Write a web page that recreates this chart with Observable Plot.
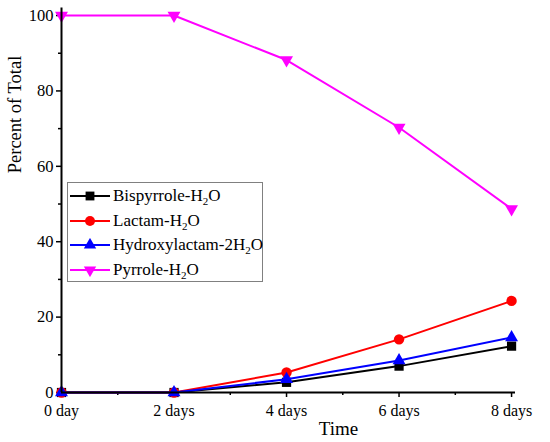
<!DOCTYPE html>
<html>
<head>
<meta charset="utf-8">
<script src="https://cdn.jsdelivr.net/npm/d3@7"></script>
<script src="https://cdn.jsdelivr.net/npm/@observablehq/plot@0.6"></script>
<style>
  html, body { margin: 0; padding: 0; background: #fff; }
  #wrap { position: relative; width: 550px; height: 442px; font-family: "Liberation Serif", "DejaVu Serif", serif; }
  #wrap svg text { font-family: "Liberation Serif", "DejaVu Serif", serif; }
  #legend { position: absolute; left: 67px; top: 182px; width: 196px; height: 100px; border: 1px solid #808080; background: #fff; box-sizing: border-box; padding-top: 1px; }
  .row { height: 24.5px; display: flex; align-items: center; font-size: 17px; color: #000; white-space: nowrap; }
  .row svg { margin-left: 2px; margin-right: 3px; flex: none; }
  sub { font-size: 11px; vertical-align: -4px; line-height: 0; }
</style>
</head>
<body>
<div id="wrap"><div id="chart"></div><div id="legend"></div></div>
<script>
const days = [0, 2, 4, 6, 8];
const tickLabels = ["0 day", "2 days", "4 days", "6 days", "8 days"];
const seriesNames = ["Bispyrrole-H2O", "Lactam-H2O", "Hydroxylactam-2H2O", "Pyrrole-H2O"];
const legendHtml = ["Bispyrrole-H<sub>2</sub>O", "Lactam-H<sub>2</sub>O", "Hydroxylactam-2H<sub>2</sub>O", "Pyrrole-H<sub>2</sub>O"];
const colors = ["#000000", "#ff0000", "#0000ff", "#ff00ff"];
const symbols = ["square", "circle", "triangle", "triangle"];
const rotations = [0, 0, 0, 180];
const bispyrrole = [0, 0, 2.7, 7.0, 12.3];
const lactam = [0, 0, 5.3, 14.1, 24.3];
const hydroxylactam = [0, 0, 3.5, 8.5, 14.6];
const pyrrole = [100, 100, 88.2, 70.3, 48.7];
const allValues = [bispyrrole, lactam, hydroxylactam, pyrrole];
const xLabel = "Time";
const yLabel = "Percent of Total";

const data = [];
allValues.forEach((vals, i) => vals.forEach((v, j) => data.push({series: seriesNames[i], idx: i, day: days[j], value: v})));

const marks = [];
seriesNames.forEach((name, i) => {
  const d = data.filter(r => r.idx === i);
  marks.push(Plot.line(d, {x: "day", y: "value", stroke: colors[i], strokeWidth: 2}));
  marks.push(Plot.dot(d, {x: "day", y: "value", fill: colors[i], stroke: "none", symbol: symbols[i], r: symbols[i] === "triangle" ? 4.8 : 5.2, rotate: rotations[i]}));
});

const chart = Plot.plot({
  width: 550,
  height: 442,
  marginLeft: 61,
  marginRight: 35,
  marginTop: 7.5,
  marginBottom: 50,
  style: {fontFamily: "'Liberation Serif', 'DejaVu Serif', serif", fontSize: "16px", color: "#000", background: "#fff"},
  x: {domain: [0, 8.07]},
  y: {domain: [0, 102]},
  marks: [
    Plot.axisX({ticks: days, tickFormat: d => tickLabels[days.indexOf(d)], tickSize: 5, tickPadding: 7, strokeWidth: 1.5, label: null, fontSize: 16}),
    Plot.axisX({ticks: [1, 3, 5, 7], tickSize: 3, strokeWidth: 1.5, text: null, label: null}),
    Plot.axisY({ticks: [0, 20, 40, 60, 80, 100], tickSize: 5, tickPadding: 3, strokeWidth: 1.5, label: null, fontSize: 16.5}),
    Plot.axisY({ticks: [10, 30, 50, 70, 90], tickSize: 3, strokeWidth: 1.5, text: null, label: null}),
    Plot.text([xLabel], {frameAnchor: "bottom", dx: 50, dy: 42, fontSize: 19, fill: "#000"}),
    Plot.text([yLabel], {frameAnchor: "left", rotate: -90, dx: -46, dy: -27, fontSize: 18.5, fill: "#000"}),
    ...marks,
    Plot.ruleY([0], {stroke: "#000", strokeWidth: 2}),
    Plot.ruleX([0], {stroke: "#000", strokeWidth: 2})
  ]
});
document.getElementById("chart").appendChild(chart);

const legend = document.getElementById("legend");
seriesNames.forEach((name, i) => {
  const row = document.createElement("div");
  row.className = "row";
  const svg = d3.create("svg").attr("width", 40).attr("height", 14);
  svg.append("line").attr("x1", 0).attr("x2", 40).attr("y1", 7).attr("y2", 7).attr("stroke", colors[i]).attr("stroke-width", 2);
  const sym = d3.symbol().type({square: d3.symbolSquare, circle: d3.symbolCircle, triangle: d3.symbolTriangle}[symbols[i]]).size(symbols[i] === "triangle" ? 66 : 78);
  svg.append("path").attr("d", sym()).attr("fill", colors[i]).attr("transform", `translate(20,7) rotate(${rotations[i]})`);
  row.appendChild(svg.node());
  const span = document.createElement("span");
  span.innerHTML = legendHtml[i];
  row.appendChild(span);
  legend.appendChild(row);
});
</script>
</body>
</html>
